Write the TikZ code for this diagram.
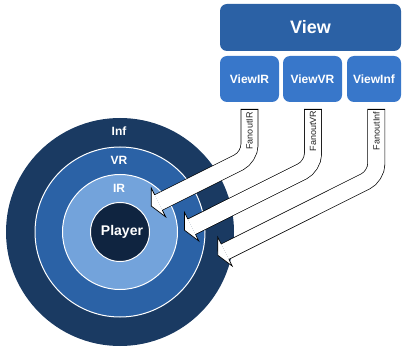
\documentclass[tikz,border=0pt]{standalone}
\usepackage{fontspec}
\setmainfont{Liberation Sans}
\usetikzlibrary{calc}
\definecolor{cInf}{RGB}{26,58,98}
\definecolor{cVR}{RGB}{43,98,166}
\definecolor{cIR}{RGB}{115,163,219}
\definecolor{cPlayer}{RGB}{15,36,64}
\definecolor{cView}{RGB}{43,97,165}
\definecolor{cSub}{RGB}{56,119,202}
\definecolor{cLabel}{RGB}{34,34,34}
\newcommand\fanarrow[6]{%
  \coordinate (#1top) at (#2,109);
  \coordinate (#1bend) at (#2,#3);
  \coordinate (#1end) at (#4,#5);
  \draw[shaft] (#1top) -- (#1bend) -- (#1end);
  \draw[outl] ($(#1top)+(-8.55,0)$) -- ($(#1top)+(8.55,0)$);
  \fill[white] ($(#1end)+(-0.4472*16,-0.8944*16)$) -- ($(#1end)+(-0.8944*8,0.4472*8)$) -- ($(#1end)+(0.4472*16,0.8944*16)$) -- cycle;
  \draw[outl] ($(#1end)+(-0.4472*8.55,-0.8944*8.55)$) -- ($(#1end)+(-0.4472*16,-0.8944*16)$) -- ($(#1end)+(-0.8944*8,0.4472*8)$) -- ($(#1end)+(0.4472*16,0.8944*16)$) -- ($(#1end)+(0.4472*8.55,0.8944*8.55)$);
  \node[fanlabel] (#1label) at (#2,131) {#6};
}
\begin{document}
\begin{tikzpicture}[x=1pt,y=-1pt,
  ring/.style={circle, draw=white, line width=1pt, inner sep=0pt},
  ringlabel/.style={text=white, font=\bfseries\fontsize{12}{14}\selectfont},
  viewbox/.style={rounded corners=7pt, inner sep=0pt, text=white, font=\bfseries\fontsize{12}{14}\selectfont},
  shaft/.style={rounded corners=12pt, double=white, double distance=16.4pt, line width=0.7pt, draw=black},
  outl/.style={draw=black, line width=0.7pt, line join=miter},
  fanlabel/.style={rotate=90, text=cLabel, font=\fontsize{9}{10}\selectfont, inner sep=0pt}
]
\useasboundingbox (0,0) rectangle (403,352);
% rings
\node[ring, fill=cInf, draw=none, minimum size=228pt] (inf) at (120,232) {};
\node[ring, fill=cVR, minimum size=170pt] (vr) at (120,232) {};
\node[ring, fill=cIR, minimum size=115pt] (ir) at (120,232) {};
\node[ring, fill=cPlayer, minimum size=59pt] (player) at (120,232) {};
\node[ringlabel] (inflabel) at (119,131) {Inf};
\node[ringlabel] (vrlabel) at (119,160) {VR};
\node[ringlabel] (irlabel) at (119,188) {IR};
\node[text=white, font=\bfseries\fontsize{14}{16}\selectfont] (playerlabel) at (122,232) {Player};
% view boxes
\node[viewbox, fill=cView, minimum width=181pt, minimum height=47pt, font=\bfseries\fontsize{18}{20}\selectfont] (view) at (310.5,27.5) {View};
\node[viewbox, fill=cSub, minimum width=59pt, minimum height=46pt] (viewir) at (249.5,79) {ViewIR};
\node[viewbox, fill=cSub, minimum width=59pt, minimum height=46pt] (viewvr) at (312.5,79) {ViewVR};
\node[viewbox, fill=cSub, minimum width=54pt, minimum height=46pt] (viewinf) at (374,79) {ViewInf};
% fanout arrows
\fanarrow{finf}{376.3}{176}{225}{251.7}{FanoutInf}
\fanarrow{fvr}{313}{166}{191.7}{226.7}{FanoutVR}
\fanarrow{fir}{249.5}{157}{158.5}{202.5}{FanoutIR}
\end{tikzpicture}
\end{document}
